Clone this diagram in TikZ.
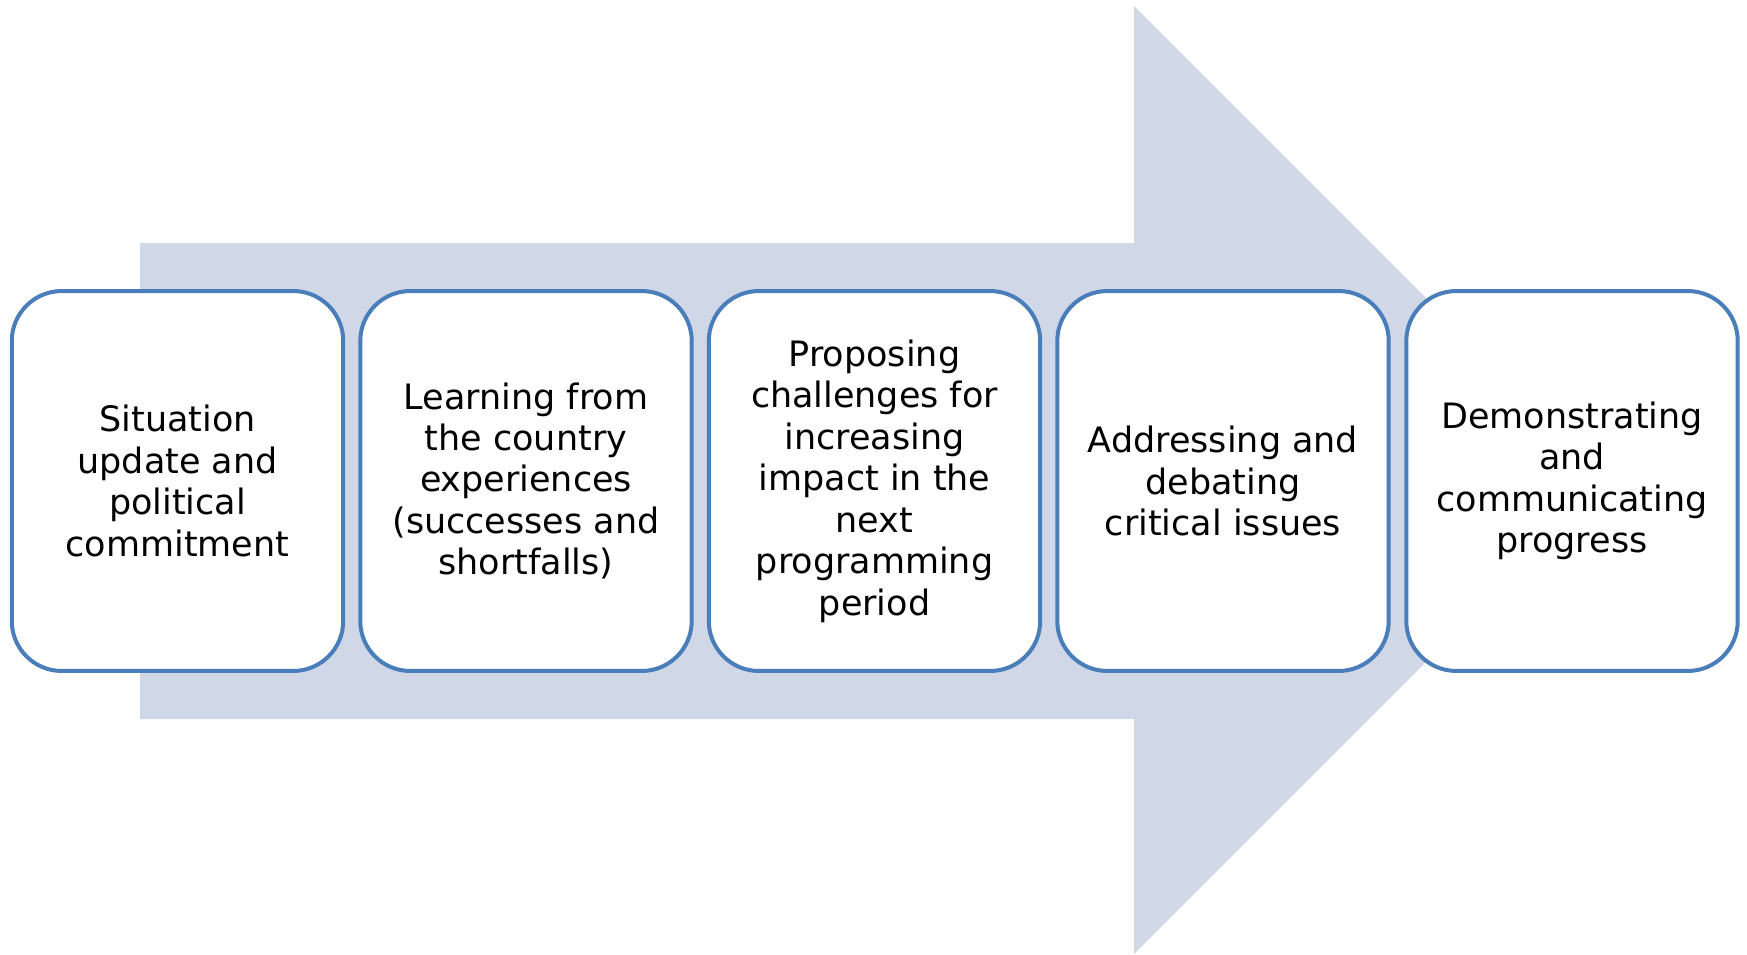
\documentclass[tikz,border=0pt]{standalone}
\usepackage{fontspec}
\setmainfont{DejaVu Sans}
\definecolor{arrowfill}{HTML}{D0D8E8}
\definecolor{stageline}{HTML}{4A7EBB}
\tikzset{
	stage/.style={draw=stageline, line width=0.08cm, fill=white, rounded corners=1cm,
		minimum width=6.63cm, minimum height=7.6cm, align=center, inner sep=0pt,
		font=\fontsize{19.9pt}{23.6pt}\selectfont}
}

\begin{document}
\begin{tikzpicture}[x=0.02cm, y=-0.02cm]
	\useasboundingbox (0,0) rectangle (1747,954);
	\coordinate (T1) at (140, 243);
	\coordinate (T2) at (1134, 243);
	\coordinate (H1) at (1134, 6);
	\coordinate (Tip) at (1608, 480);
	\coordinate (H2) at (1134, 954);
	\coordinate (B2) at (1134, 719);
	\coordinate (B1) at (140, 719);

	\fill [arrowfill] (T1) -- (T2) -- (H1) -- (Tip) -- (H2) -- (B2) -- (B1) -- cycle;

	\node [stage] (S1) at (177.5, 481) {Situation\\update and\\political\\commitment};
	\node [stage] (S2) at (526, 481) {Learning from\\the country\\experiences\\(successes and\\shortfalls)};
	\node [stage] (S3) at (874.5, 481) {Proposing\\challenges for\\increasing\\impact in the\\next\\programming\\period};
	\node [stage] (S4) at (1223, 481) {Addressing and\\debating\\critical issues};
	\node [stage] (S5) at (1572, 481) {Demonstrating\\and\\communicating\\progress};
\end{tikzpicture}
\end{document}
